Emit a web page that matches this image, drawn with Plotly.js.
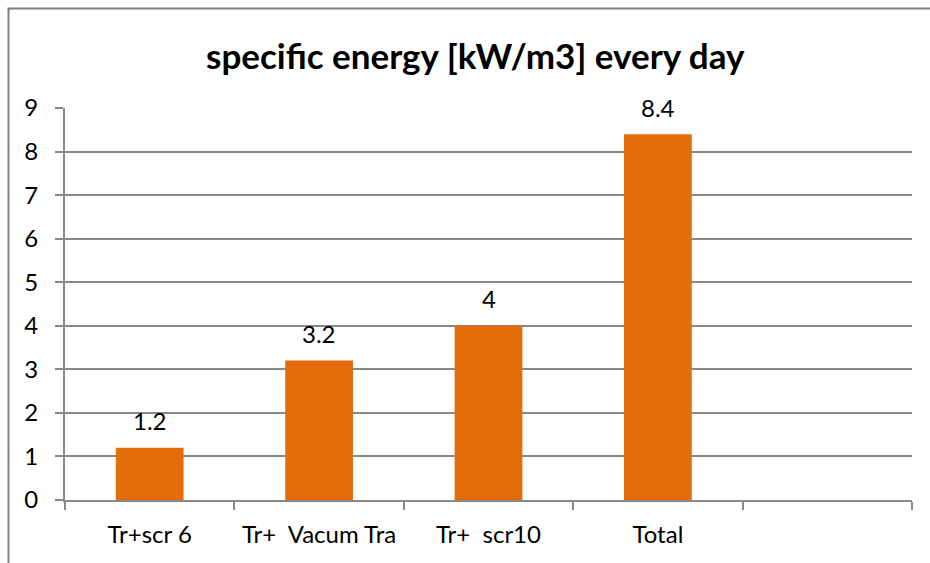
<!DOCTYPE html>
<html>
<head>
<meta charset="utf-8">
<script src="https://cdn.plot.ly/plotly-3.0.1.min.js"></script>
<style>html,body{margin:0;padding:0;background:#fff;}#chart{width:930px;height:563px;}</style>
</head>
<body>
<div id="chart"></div>
<script>
const categories = ["Tr+scr 6", "Tr+\u00a0 Vacum Tra", "Tr+\u00a0 scr10", "Total", " "];
const values = [1.2, 3.2, 4, 8.4, null];
const labels = ["1.2", "3.2", "4", "8.4", ""];
const yTicks = [0, 1, 2, 3, 4, 5, 6, 7, 8, 9];

const font = "Lato, 'Open Sans', sans-serif";

const annotations = categories.map((c, i) => values[i] == null ? null : ({
  x: c, y: values[i], text: labels[i], showarrow: false,
  yshift: 27, font: {family: font, size: 24, color: '#000'}
})).filter(a => a);

const trace = {
  type: 'bar', x: categories, y: values,
  marker: {color: '#E46C0A'}, width: 0.4, hoverinfo: 'none'
};

const layout = {
  width: 930, height: 563,
  margin: {l: 65, r: 18, t: 108, b: 63},
  paper_bgcolor: '#fff', plot_bgcolor: '#fff',
  showlegend: false,
  title: {text: '<b>specific energy [kW/m3] every day</b>', xref: 'container', yref: 'container',
    x: 0.511, y: 0.899, xanchor: 'center', yanchor: 'middle',
    font: {family: font, size: 35, color: '#000'}},
  xaxis: {type: 'category', showgrid: false, showline: true, linecolor: '#898989', linewidth: 2,
    ticks: 'outside', tickson: 'boundaries', ticklen: 8, tickwidth: 2, tickcolor: '#898989',
    ticklabelstandoff: 12,
    tickfont: {family: font, size: 24, color: '#000'}, range: [-0.5, 4.5], fixedrange: true},
  yaxis: {range: [0, 9], tickvals: yTicks, ticktext: yTicks.map(String),
    showgrid: true, gridcolor: '#898989', gridwidth: 2, zeroline: false,
    showline: true, linecolor: '#898989', linewidth: 2,
    ticks: 'outside', ticklen: 8, tickwidth: 2, tickcolor: '#898989',
    ticklabelstandoff: 12,
    tickfont: {family: font, size: 24, color: '#000'}, fixedrange: true},
  annotations: annotations,
  shapes: [
    {type: 'line', xref: 'paper', yref: 'paper', x0: -65/847 + 8.5/847, x1: -65/847 + 8.5/847,
      y0: -63/392, y1: 1 + 99.5/392, line: {color: '#808080', width: 2}},
    {type: 'line', xref: 'paper', yref: 'paper', x0: -65/847 + 7.5/847, x1: 1 + 18/847,
      y0: 1 + 99.5/392, y1: 1 + 99.5/392, line: {color: '#808080', width: 2}}
  ]
};

Plotly.newPlot('chart', [trace], layout, {staticPlot: true, displayModeBar: false});
</script>
</body>
</html>
